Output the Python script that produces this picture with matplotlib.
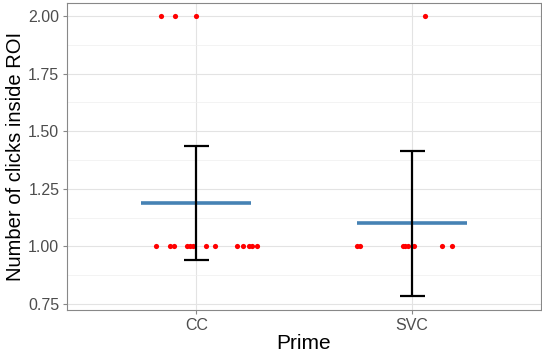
import matplotlib
matplotlib.use("Agg")
import matplotlib.pyplot as plt
import numpy as np

plt.rcParams['font.family'] = ['Liberation Sans', 'DejaVu Sans']

primes = ['CC', 'SVC']
means = [1.1875, 1.10]
errs = [0.247, 0.316]

# clicks per trial, with the horizontal jitter
cc_clicks = [1] * 13 + [2] * 3
cc_jitter = [-0.188, -0.123, -0.104, -0.045, -0.029, -0.017, 0.043, 0.087,
             0.188, 0.219, 0.245, 0.257, 0.280, -0.163, -0.099, -0.003]
svc_clicks = [1] * 8 + [2]
svc_jitter = [-0.254, -0.242, -0.042, -0.030, -0.019, 0.011, 0.141, 0.188, 0.060]

fig = plt.figure(figsize=(5.42, 3.52), dpi=100)
ax = fig.add_axes([67/542, 1 - 310/352, (541 - 67)/542, (310 - 3)/352])

xpos = np.arange(1, len(primes) + 1)
for x, clicks, jit in [(1, cc_clicks, cc_jitter), (2, svc_clicks, svc_jitter)]:
    ax.scatter(x + np.array(jit), clicks, s=14, color='red', linewidths=0, zorder=3)

for x, m, e in zip(xpos, means, errs):
    ax.plot([x - 0.255, x + 0.255], [m, m], color='steelblue', lw=2.6,
            solid_capstyle='butt', zorder=4)
ax.errorbar(xpos, means, yerr=errs, fmt='none', ecolor='black', elinewidth=1.6,
            capsize=9, capthick=1.6, zorder=5)

ax.set_xlim(0.4, 2.6)
ax.set_ylim(0.724, 2.056)
ax.set_xticks(xpos)
ax.set_xticklabels(primes)
ax.set_yticks([0.75, 1.00, 1.25, 1.50, 1.75, 2.00])
ax.set_yticklabels(['0.75', '1.00', '1.25', '1.50', '1.75', '2.00'])
ax.set_yticks([0.875, 1.125, 1.375, 1.625, 1.875], minor=True)

ax.grid(True, which='major', color='#e3e3e3', lw=0.8, zorder=0)
ax.grid(True, which='minor', axis='y', color='#efefef', lw=0.5, zorder=0)
ax.set_axisbelow(True)
for sp in ax.spines.values():
    sp.set_color('#888888')
    sp.set_linewidth(0.8)
ax.tick_params(axis='both', which='major', colors='#888888', labelcolor='#4d4d4d',
               labelsize=11.5, length=3, width=0.8, pad=2.5)
ax.tick_params(axis='y', which='minor', length=0)

ax.set_xlabel('Prime', fontsize=15, color='black', labelpad=1)
ax.set_ylabel('Number of clicks inside ROI', fontsize=14.5, color='black', labelpad=2)

fig.savefig('out.png', dpi=100)
